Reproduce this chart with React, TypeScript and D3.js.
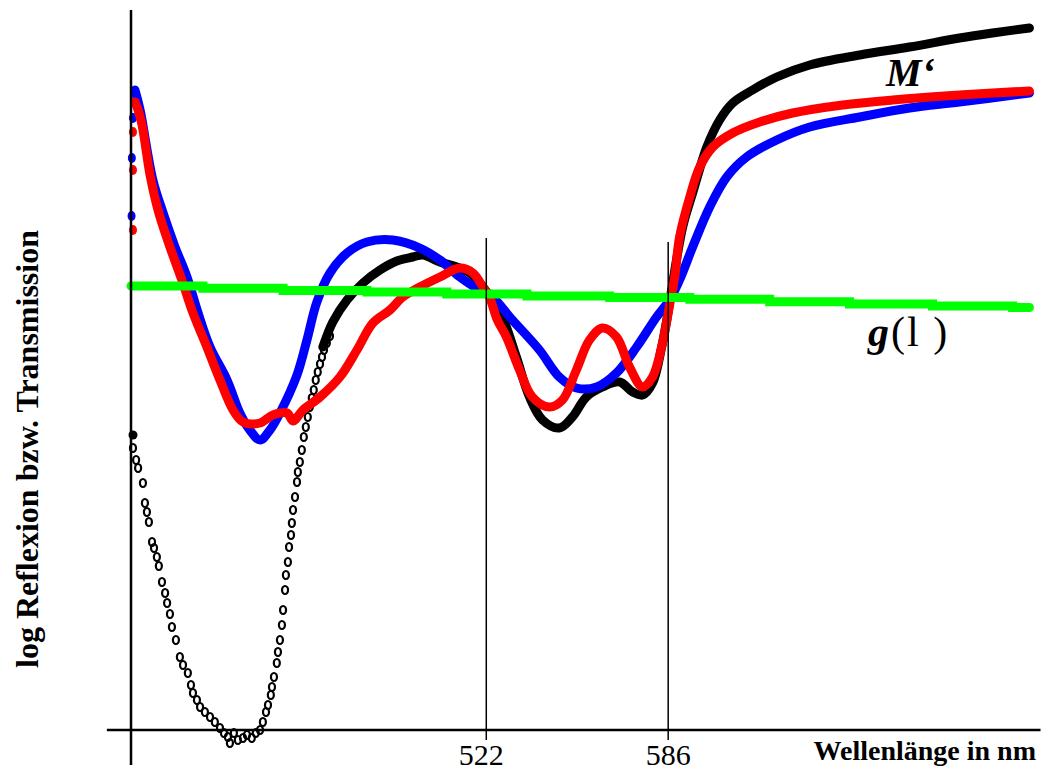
import React from "react";
import * as d3 from "d3";

// wavelength (nm), log reflexion/transmission (arbitrary units)
const blueStart: [number, number][] = [[397.2, 51.4], [397.3, 57.2], [397.7, 61.2]];
const blueSeries: [number, number][] = [
  [398.4, 64.0], [400.2, 62.0], [404.7, 55.0], [408.3, 51.7], [412.5, 48.3], [416.7, 45.3],
  [420.6, 41.7], [424.8, 38.3], [430.8, 35.0], [435.3, 31.7], [438.8, 30.0], [442.4, 29.0],
  [445.9, 30.0], [449.4, 31.7], [455.4, 35.5], [458.9, 39.0], [462.4, 42.8], [467.0, 45.7],
  [473.0, 47.7], [480.0, 48.8], [489.1, 49.0], [498.6, 48.2], [505.7, 47.0], [512.7, 45.3],
  [519.7, 44.0], [523.1, 43.6], [531.2, 41.0], [540.7, 38.0], [547.7, 35.3], [553.7, 34.2],
  [560.8, 34.3], [567.8, 35.7], [574.9, 38.3], [581.9, 41.3], [586.5, 43.0], [590.0, 45.0],
  [594.6, 48.3], [600.6, 52.3], [606.6, 55.3], [613.6, 57.3], [624.2, 59.0], [635.8, 60.3],
  [653.4, 61.3], [670.9, 62.2], [688.5, 62.8], [713.1, 63.7],
];

const redStart: [number, number][] = [[397.7, 50.0], [397.7, 56.0], [397.7, 59.8]];
const redSeries: [number, number][] = [
  [398.4, 62.8], [399.5, 62.0], [400.9, 60.5], [403.7, 55.5], [406.5, 52.0], [410.7, 48.3],
  [414.9, 45.0], [418.8, 41.7], [423.7, 38.3], [428.3, 35.0], [432.9, 32.0], [436.4, 30.8],
  [442.4, 30.7], [446.9, 31.5], [451.9, 31.7], [454.0, 30.9], [457.5, 32.0], [463.5, 33.3],
  [470.5, 35.3], [476.5, 38.0], [482.1, 40.7], [488.1, 42.0], [492.6, 43.3], [498.6, 44.3],
  [505.7, 45.3], [512.7, 46.2], [517.3, 45.7], [520.8, 44.3], [523.1, 43.3], [525.9, 41.0],
  [529.1, 39.3], [533.7, 36.0], [538.2, 33.3], [544.2, 32.3], [548.8, 33.0], [553.7, 36.0],
  [558.3, 39.0], [562.9, 40.2], [567.8, 39.3], [572.4, 36.3], [577.0, 34.3], [580.5, 35.3],
  [584.0, 38.7], [586.5, 42.5], [588.3, 45.3], [590.0, 49.3], [593.6, 53.3], [597.1, 56.3],
  [601.7, 58.3], [608.7, 59.7], [618.2, 60.8], [629.8, 61.7], [647.4, 62.5], [665.0, 63.0],
  [688.5, 63.5], [713.1, 63.9],
];

const blackStart: [number, number][] = [[397.7, 29.5]];
const blackOpen: [number, number][] = [
  [397.7, 28.2], [398.8, 27.0], [399.5, 26.2], [401.2, 24.7], [401.9, 22.7], [402.6, 21.8],
  [403.3, 20.8], [404.4, 18.8], [405.1, 18.2], [406.1, 17.3], [406.8, 16.4], [407.9, 14.8],
  [409.0, 13.7], [409.7, 12.7], [410.7, 11.6], [411.4, 10.3], [412.8, 9.0], [414.2, 7.3],
  [415.3, 6.5], [417.0, 5.7], [418.1, 4.5], [418.8, 3.7], [420.2, 3.0], [421.3, 2.3],
  [423.0, 1.8], [424.8, 1.3], [426.5, 0.8], [428.3, 0.2], [429.7, -0.3], [431.1, -0.7],
  [431.8, -1.3], [433.2, -0.3], [434.6, -1.0], [436.4, -0.8], [437.8, -0.5], [439.5, -0.8],
  [440.9, -0.3], [442.4, 0.0], [443.4, 0.8], [444.5, 1.8], [445.2, 2.5], [446.2, 3.5],
  [446.6, 4.3], [447.3, 5.3], [448.3, 6.7], [448.7, 7.8], [449.4, 9.0], [450.1, 10.5],
  [450.5, 12.0], [451.2, 14.0], [451.5, 15.5], [452.2, 16.8], [452.6, 18.3], [453.3, 19.5],
  [453.6, 20.7], [454.0, 22.0], [454.7, 23.3], [455.4, 24.8], [455.7, 25.8], [456.4, 26.8],
  [457.1, 28.0], [457.8, 29.3], [458.5, 30.3], [459.2, 31.3], [459.9, 32.3], [460.6, 33.2],
  [461.3, 34.0], [462.0, 35.0], [462.7, 35.8], [463.5, 36.6], [464.2, 37.3], [464.9, 38.0],
  [465.9, 38.7], [467.0, 39.4],
];
const blackSeries: [number, number][] = [
  [464.5, 38.3], [468.0, 40.8], [473.0, 43.0], [478.6, 44.7], [484.6, 46.0], [490.5, 46.9],
  [496.2, 47.3], [499.7, 47.5], [505.7, 46.8], [511.6, 46.3], [516.2, 45.7], [519.7, 44.7],
  [522.4, 43.7], [524.1, 43.0], [527.7, 41.3], [532.6, 37.3], [537.2, 33.3], [541.8, 31.0],
  [547.7, 30.2], [552.3, 31.3], [557.2, 33.3], [562.9, 34.3], [568.9, 34.8], [573.5, 33.8],
  [577.0, 33.5], [580.5, 34.7], [583.7, 38.3], [585.5, 41.0], [587.2, 44.0], [591.1, 50.3],
  [594.6, 53.7], [599.6, 58.3], [604.1, 61.0], [608.7, 62.7], [615.7, 64.0], [624.2, 65.3],
  [635.8, 66.5], [653.4, 67.5], [670.9, 68.3], [688.5, 69.2], [700.1, 69.7], [713.1, 70.2],
];

const greenSeries: [number, number][] = [
  [397.0, 44.4], [422.3, 44.17], [450.5, 43.95], [480.0, 43.8], [508.1, 43.6], [536.3, 43.4],
  [565.4, 43.25], [593.6, 43.07], [621.7, 42.83], [649.8, 42.6], [679.0, 42.4], [707.2, 42.25],
  [713.1, 42.25],
];

const markerWavelengths = [522, 586];
const markerTops = [49.2, 48.8];
const tickLabels = ["522", "586"];

const W = 1044;
const H = 771;
const FONT = "'Liberation Serif', 'Times New Roman', serif";

export default function App() {
  const x = d3.scaleLinear().domain([397, 714]).range([131, 1032]);
  const y = d3.scaleLinear().domain([0, 72]).range([730, 10]);

  const smooth = d3
    .line<[number, number]>()
    .x((d) => x(d[0]))
    .y((d) => y(d[1]))
    .curve(d3.curveCatmullRom.alpha(0.5));
  const step = d3
    .line<[number, number]>()
    .x((d) => x(d[0]))
    .y((d) => y(d[1]))
    .curve(d3.curveStepAfter);

  return (
    <svg
      width={W}
      height={H}
      style={{ position: "absolute", left: 0, top: 0, background: "#fff" }}
    >
      <rect width={W} height={H} fill="#fff" />

      {/* black open-circle series */}
      {blackStart.map((d, i) => (
        <circle key={"bs" + i} cx={x(d[0])} cy={y(d[1])} r={4.5} fill="#000" />
      ))}
      {blackOpen.map((d, i) => (
        <ellipse
          key={"bo" + i}
          cx={x(d[0])}
          cy={y(d[1])}
          rx={3}
          ry={4}
          fill="none"
          stroke="#000"
          strokeWidth={2.2}
        />
      ))}
      <path d={smooth(blackSeries) || ""} fill="none" stroke="#000" strokeWidth={9} strokeLinecap="round" strokeLinejoin="round" />

      {/* blue */}
      {blueStart.map((d, i) => (
        <ellipse key={"bl" + i} cx={x(d[0])} cy={y(d[1])} rx={4} ry={5} fill="#0000ff" />
      ))}
      <path d={smooth(blueSeries) || ""} fill="none" stroke="#0000ff" strokeWidth={9} strokeLinecap="round" strokeLinejoin="round" />

      {/* red */}
      {redStart.map((d, i) => (
        <ellipse key={"rs" + i} cx={x(d[0])} cy={y(d[1])} rx={4} ry={5} fill="#ff0000" />
      ))}
      <path d={smooth(redSeries) || ""} fill="none" stroke="#ff0000" strokeWidth={9} strokeLinecap="round" strokeLinejoin="round" />

      {/* green g(l) */}
      <path d={step(greenSeries) || ""} fill="none" stroke="#00ff00" strokeWidth={9} strokeLinecap="round" />

      {/* axes */}
      <line x1={x(397)} x2={x(397)} y1={y(72)} y2={y(-3.5)} stroke="#000" strokeWidth={2.5} />
      <line x1={x(388.5)} x2={x(717)} y1={y(0)} y2={y(0)} stroke="#000" strokeWidth={2.5} />

      {markerWavelengths.map((w, i) => (
        <g key={"m" + w}>
          <line x1={x(w)} x2={x(w)} y1={y(markerTops[i])} y2={y(-1)} stroke="#000" strokeWidth={1.5} />
          <text
            x={x(w) + (i === 0 ? -5 : 0)}
            y={765}
            textAnchor="middle"
            fontFamily={FONT}
            fontSize={30}
            fill="#000"
          >
            {tickLabels[i]}
          </text>
        </g>
      ))}

      <text x={1036} y={760} textAnchor="end" fontFamily={FONT} fontSize={28} fontWeight="bold" fill="#000">
        Wellenlänge in nm
      </text>

      <text
        transform="translate(38,449) rotate(-90)"
        textAnchor="middle"
        fontFamily={FONT}
        fontSize={32}
        fontWeight="bold"
        fill="#000"
      >
        log Reflexion bzw. Transmission
      </text>

      <text x={886} y={86} fontFamily={FONT} fontSize={40} fontWeight="bold" fontStyle="italic" fill="#000">
        M‘
      </text>

      <text x={868} y={346} fontFamily={FONT} fontSize={42} fill="#000" letterSpacing={2}>
        <tspan fontWeight="bold" fontStyle="italic">g</tspan>
        <tspan>(l )</tspan>
      </text>
    </svg>
  );
}
